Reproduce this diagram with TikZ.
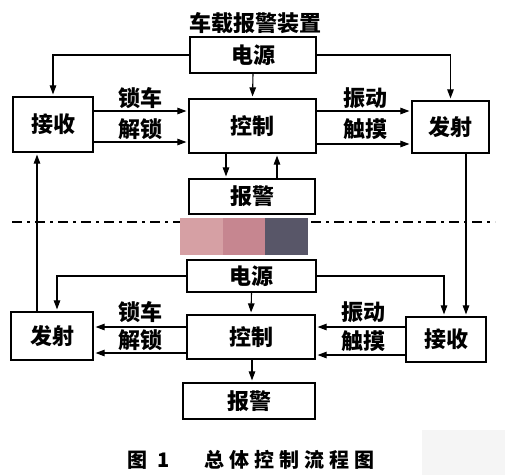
\documentclass[tikz,border=0pt]{standalone}
\usepackage{fontspec}
\newfontfamily\cjk{Noto Sans CJK SC}
\usetikzlibrary{arrows.meta}
\definecolor{blotA}{RGB}{214,160,164}
\definecolor{blotB}{RGB}{198,134,144}
\definecolor{blotC}{RGB}{88,86,104}
\tikzset{
	blk/.style={draw, line width=1.2pt, inner sep=0pt, font=\cjk\bfseries\fontsize{22}{22}\selectfont},
	lbl/.style={inner sep=0pt, font=\cjk\bfseries\fontsize{22}{22}\selectfont},
	arr/.style={line width=1.1pt, -{Triangle[length=9pt,width=6.5pt]}, shorten >=2pt},
	wire/.style={line width=1.1pt}
}

\begin{document}
\begin{tikzpicture}[x=1pt, y=-1pt]
			%%%%% START %%%%%
			\useasboundingbox (0, 0) rectangle (505, 475);
			
			\node[lbl] (title) at (255, 23) {车载报警装置};
			
			% upper half: vehicle unit
			\node[blk, minimum width=126pt, minimum height=36pt] (pwrA) at (253, 55) {电源};
			\node[blk, minimum width=80pt, minimum height=55pt] (recvA) at (53, 124.5) {接收};
			\node[blk, minimum width=127pt, minimum height=54pt] (ctrlA) at (252.5, 126) {控制};
			\node[blk, minimum width=77pt, minimum height=52pt] (sendA) at (450.5, 127) {发射};
			\node[blk, minimum width=126pt, minimum height=35pt] (alarmA) at (252, 196.5) {报警};
			
			\draw[arr] (pwrA.west) -| (recvA.north);
			\draw[arr] (pwrA.east) -| (sendA.north);
			\draw[arr] (pwrA.south) -- (ctrlA.north);
			
			\draw[arr] (recvA.east |- 0, 111) -- (ctrlA.west |- 0, 111);
			\draw[arr] (recvA.east |- 0, 142) -- (ctrlA.west |- 0, 142);
			\node[lbl] (lockA) at (140, 98) {锁车};
			\node[lbl] (unlockA) at (140, 129) {解锁};
			
			\draw[arr] (ctrlA.east |- 0, 111) -- (sendA.west |- 0, 111);
			\draw[arr] (ctrlA.east |- 0, 144) -- (sendA.west |- 0, 144);
			\node[lbl] (shakeA) at (365, 98) {振动};
			\node[lbl] (touchA) at (365, 129) {触摸};
			
			\draw[arr] (ctrlA.south -| 226, 0) -- (alarmA.north -| 226, 0);
			\draw[arr] (alarmA.north -| 277, 0) -- (ctrlA.south -| 277, 0);
			
			% separator
			\draw[line width=1.4pt, dash pattern=on 10pt off 5pt on 3pt off 5pt] (12, 222) -- (495, 222);
			\fill[blotA] (180, 218) rectangle (223, 255);
			\fill[blotB] (223, 218) rectangle (265, 255);
			\fill[blotC] (265, 218) rectangle (308, 255);
			
			% lower half: remote unit
			\node[blk, minimum width=129pt, minimum height=32pt] (pwrB) at (251.5, 276) {电源};
			\node[blk, minimum width=82pt, minimum height=48pt] (sendB) at (52, 336) {发射};
			\node[blk, minimum width=128pt, minimum height=44pt] (ctrlB) at (251, 337) {控制};
			\node[blk, minimum width=80pt, minimum height=45pt] (recvB) at (446, 339.5) {接收};
			\node[blk, minimum width=132pt, minimum height=36pt] (alarmB) at (249, 401) {报警};
			
			\draw[arr] (pwrB.west) -| ([xshift=5pt]sendB.north);
			\draw[arr] (pwrB.east) -| ([xshift=-2pt]recvB.north);
			\draw[arr] (pwrB.south) -- (ctrlB.north);
			
			\draw[arr] (ctrlB.west |- 0, 327) -- (sendB.east |- 0, 327);
			\draw[arr] (ctrlB.west |- 0, 353) -- (sendB.east |- 0, 353);
			\node[lbl] (lockB) at (140, 312) {锁车};
			\node[lbl] (unlockB) at (140, 340) {解锁};
			
			\draw[arr] (recvB.west |- 0, 327) -- (ctrlB.east |- 0, 327);
			\draw[arr] (recvB.west |- 0, 355) -- (ctrlB.east |- 0, 355);
			\node[lbl] (shakeB) at (363, 312) {振动};
			\node[lbl] (touchB) at (363, 341) {触摸};
			
			\draw[arr] (ctrlB.south -| 252, 0) -- (alarmB.north -| 252, 0);
			
			% radio links across the two halves
			\draw[arr] (sendB.north -| 37, 0) -- (recvA.south -| 37, 0);
			\draw[arr] (sendA.south -| 466, 0) -- (recvB.north -| 466, 0);
			
			\node[lbl, font=\cjk\bfseries\fontsize{20}{20}\selectfont] (fignum) at (149, 460) {图\kern10pt 1};
			\node[lbl, font=\cjk\bfseries\fontsize{20}{20}\selectfont] (caption) at (289, 460) {总\kern5pt 体\kern5pt 控\kern5pt 制\kern5pt 流\kern5pt 程\kern5pt 图};
			
			\fill[black!4] (422, 430) rectangle (505, 475);
			%%%%% END %%%%%
\end{tikzpicture}
\end{document}
